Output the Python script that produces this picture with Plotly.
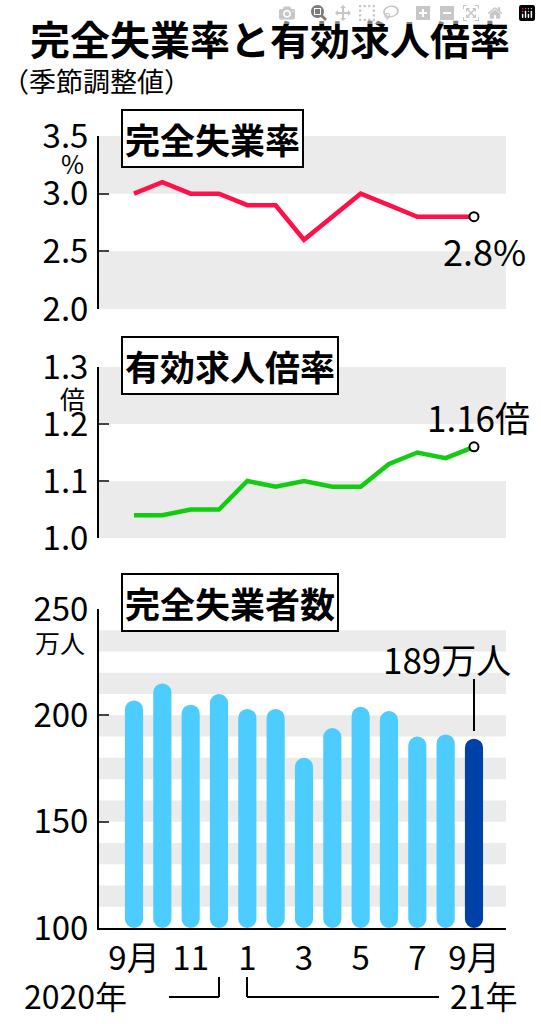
import plotly.graph_objects as go

months = ["9月", "10", "11", "12", "1", "2", "3", "4", "5", "6", "7", "8", "9月"]
tick_labels = ["9月", "11", "1", "3", "5", "7", "9月"]
unemp_rate = [3.0, 3.1, 3.0, 3.0, 2.9, 2.9, 2.6, 2.8, 3.0, 2.9, 2.8, 2.8, 2.8]
jobs_ratio = [1.04, 1.04, 1.05, 1.05, 1.10, 1.09, 1.10, 1.09, 1.09, 1.13, 1.15, 1.14, 1.16]
unemployed = [207, 215, 205, 210, 203, 203, 180, 194, 204, 202, 190, 191, 189]

W, H = 541, 1024
FONT = "Noto Sans CJK JP"
xs = list(range(len(months)))
tickvals = xs[::2]

def py(p):
    return 1 - p / H

def px(p):
    return p / W

fig = go.Figure()
fig.add_trace(go.Scatter(x=xs, y=unemp_rate, mode="lines", line=dict(color="#FF1048", width=4.5),
                         xaxis="x", yaxis="y"))
fig.add_trace(go.Scatter(x=[xs[-1]], y=[unemp_rate[-1]], mode="markers",
                         marker=dict(color="white", size=9, line=dict(color="black", width=2)),
                         xaxis="x", yaxis="y"))
fig.add_trace(go.Scatter(x=xs, y=jobs_ratio, mode="lines", line=dict(color="#11CC11", width=4.5),
                         xaxis="x2", yaxis="y2"))
fig.add_trace(go.Scatter(x=[xs[-1]], y=[jobs_ratio[-1]], mode="markers",
                         marker=dict(color="white", size=9, line=dict(color="black", width=2)),
                         xaxis="x2", yaxis="y2"))
colors = ["#4DCCFF"] * (len(xs) - 1) + ["#0041A8"]
fig.add_trace(go.Bar(x=xs, y=[v - 100 for v in unemployed], base=100, marker=dict(color=colors, line=dict(width=0)),
                     width=0.64, xaxis="x3", yaxis="y3"))

xr = [-1.235, 13.13]
common_x = dict(range=xr, showgrid=False, zeroline=False, fixedrange=True, automargin=False)
yc = dict(ticks="inside", ticklen=10, tickwidth=2, showline=True, linecolor="black", linewidth=2,
          showgrid=False, zeroline=False, tickfont=dict(size=33), automargin=False, ticklabelstandoff=2)
fig.update_layout(
    width=W, height=H, autosize=False, margin=dict(l=0, r=0, t=0, b=0, autoexpand=False),
    paper_bgcolor="white", plot_bgcolor="rgba(0,0,0,0)", showlegend=False,
    barcornerradius="50%",
    font=dict(family=FONT, color="black"),
    xaxis=dict(domain=[px(99), px(506)], anchor="y", showticklabels=False, showline=False, **common_x),
    xaxis2=dict(domain=[px(99), px(506)], anchor="y2", showticklabels=False, showline=False, **common_x),
    xaxis3=dict(domain=[px(99), px(506)], anchor="y3", showline=True, linecolor="black", linewidth=2,
                tickvals=tickvals, ticktext=tick_labels, ticks="", tickfont=dict(size=33), **common_x),
    yaxis=dict(domain=[py(309), py(136)], range=[2.0, 3.5], tickvals=[2.0, 2.5, 3.0, 3.5],
               ticktext=["2.0", "2.5", "3.0", "3.5"], **yc),
    yaxis2=dict(domain=[py(538), py(367)], range=[1.0, 1.3], tickvals=[1.0, 1.1, 1.2, 1.3],
                ticktext=["1.0", "1.1", "1.2", "1.3"], **yc),
    yaxis3=dict(domain=[py(928), py(609)], range=[100, 250], tickvals=[100, 150, 200, 250], **yc),
)

shapes = []
gray = "#EBEBEB"
for y0, y1 in [(3.0, 3.5), (2.0, 2.5)]:
    shapes.append(dict(type="rect", xref="x domain", yref="y", x0=0, x1=1, y0=y0, y1=y1,
                       fillcolor=gray, line=dict(width=0), layer="below"))
for y0, y1 in [(1.2, 1.3), (1.0, 1.1)]:
    shapes.append(dict(type="rect", xref="x2 domain", yref="y2", x0=0, x1=1, y0=y0, y1=y1,
                       fillcolor=gray, line=dict(width=0), layer="below"))
for y0 in [230, 210, 190, 170, 150, 130, 110]:
    shapes.append(dict(type="rect", xref="x3 domain", yref="y3", x0=0, x1=1, y0=y0, y1=y0 + 10,
                       fillcolor=gray, line=dict(width=0), layer="below"))
shapes.append(dict(type="line", xref="paper", yref="paper", x0=px(474), x1=px(474), y0=py(679), y1=py(731),
                   line=dict(color="black", width=2)))
for x0, x1, hx in [(169, 219, 219), (247, 439, 247)]:
    shapes.append(dict(type="line", xref="paper", yref="paper", x0=px(x0), x1=px(x1), y0=py(997), y1=py(997),
                       line=dict(color="black", width=2)))
    shapes.append(dict(type="line", xref="paper", yref="paper", x0=px(hx), x1=px(hx), y0=py(997), y1=py(977),
                       line=dict(color="black", width=2)))
fig.update_layout(shapes=shapes)

def ann(text, x, y, size, xanchor="left", yanchor="middle", **kw):
    return dict(text=text, x=px(x), y=py(y), xref="paper", yref="paper", showarrow=False,
                xanchor=xanchor, yanchor=yanchor, font=dict(size=size, family=FONT, color="black"), **kw)

box = dict(bordercolor="black", borderwidth=2, borderpad=2, bgcolor="white")
annotations = [
    ann("<b>完全失業率と有効求人倍率</b>", 270, 38, 40, xanchor="center"),
    ann("（季節調整値）", 0, 80, 27),
    ann("%", 72, 163, 25, xanchor="center"),
    ann("倍", 72, 398, 25, xanchor="center"),
    ann("万人", 60, 642, 25, xanchor="center"),
    ann("<b>完全失業率</b>", 121, 138, 35, **box),
    ann("<b>有効求人倍率</b>", 121, 365, 35, **box),
    ann("<b>完全失業者数</b>", 121, 602, 35, **box),
    ann("2.8%", 484, 250, 36, xanchor="center"),
    ann("1.16倍", 478, 416, 35, xanchor="center"),
    ann("189万人", 447, 658, 35, xanchor="center"),
    ann("2020年", 75, 995, 32, xanchor="center"),
    ann("21年", 484, 995, 32, xanchor="center"),
]
fig.update_layout(annotations=annotations)

fig.write_html("out.html", post_script="document.body.style.margin='0';")
